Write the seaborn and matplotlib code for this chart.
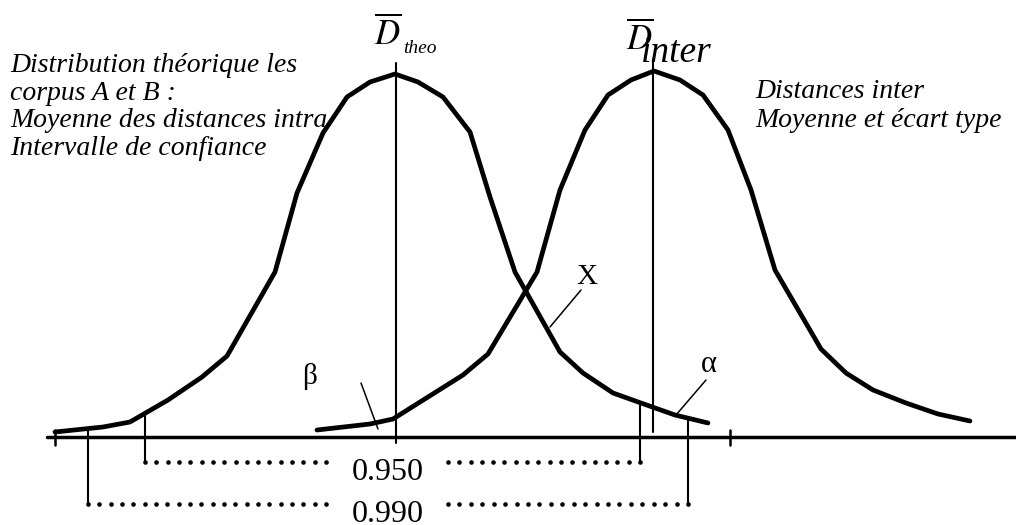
#!/bin/env python
"""
Two overlapping distributions: theoretical intra distances vs inter distances.
"""

import numpy as np
import matplotlib.pyplot as plt
import seaborn as sns

# theoretical distribution (corpus A and B), polyline
theo_x = [55, 103, 130, 168, 202, 227, 275, 297, 323, 347, 370, 395,
          418, 443, 470, 490, 515, 560, 583, 613, 641, 675, 708]
theo_y = [5, 10, 15, 37, 60, 81, 165, 244, 304, 340, 355, 363,
          355, 340, 305, 240, 165, 85, 64, 44, 34, 22, 14]

# inter distances distribution
inter_x = [317, 370, 393, 428, 463, 488, 537, 560, 585, 608, 631, 654,
           680, 703, 728, 751, 775, 821, 846, 873, 906, 938, 970]
inter_y = [7, 13, 18, 40, 62, 83, 165, 247, 307, 342, 357, 366,
           357, 342, 307, 247, 167, 88, 64, 47, 34, 23, 16]

theo_mean = 396
inter_mean = 653

# confidence intervals on the theoretical distribution
ci_labels = ['0.950', '0.990']
ci_low = [145, 88]
ci_high = [640, 688]

axis_ticks = [55, 730]

left_text = ['Distribution théorique les', 'corpus A et B :',
             'Moyenne des distances intra', 'Intervalle de confiance']
right_text = ['Distances inter', 'Moyenne et écart type']


def dotted(ax, x0, x1, y, step=11.2):
    """row of round dots from x0 to x1, both ends included"""
    n = int(round(abs(x1 - x0) / step)) + 1
    xs = np.linspace(x0, x1, n)
    ax.plot(xs, np.full(n, y), ls='none', marker='o', ms=3.3,
            color='black', mew=0)


def main():
    sns.set_theme(style='white')
    plt.rcParams['font.family'] = ['Liberation Serif', 'DejaVu Serif']
    plt.rcParams['mathtext.fontset'] = 'stix'
    plt.rcParams['text.color'] = 'black'

    fig = plt.figure(figsize=(10.16, 5.25), dpi=100)
    ax = fig.add_axes([0, 0, 1, 1])
    ax.set_xlim(0, 1016)
    ax.set_ylim(-88, 437)
    ax.axis('off')

    # horizontal axis and ticks
    ax.plot([47, 1016], [0, 0], color='black', lw=2.5, zorder=2)
    for t in axis_ticks:
        ax.plot([t, t], [-8, 7], color='black', lw=1.8)

    # curves
    sns.lineplot(x=theo_x, y=theo_y, sort=False, color='black', lw=3.4,
                 ax=ax, zorder=4)
    sns.lineplot(x=inter_x, y=inter_y, sort=False, color='black', lw=3.4,
                 ax=ax, zorder=4)

    # mean lines
    ax.plot([theo_mean, theo_mean], [-6, 374], color='black', lw=1.5)
    ax.plot([inter_mean, inter_mean], [5, 377], color='black', lw=1.5)

    # mean labels
    ax.text(388, 402, r'$\overline{D}$', fontsize=25, ha='center',
            va='center')
    ax.text(403, 384, 'theo', fontsize=14, style='italic', ha='left',
            va='baseline')
    ax.text(640, 397, r'$\overline{D}$', fontsize=25, ha='center',
            va='center')
    ax.text(641, 375, 'inter', fontsize=27, style='italic', ha='left',
            va='baseline')

    # confidence interval brackets
    rows = [-25, -67]
    for lab, lo, hi, row in zip(ci_labels, ci_low, ci_high, rows):
        for xv in (lo, hi):
            top = np.interp(xv, theo_x, theo_y)
            ax.plot([xv, xv], [row, top], color='black', lw=1.5)
        dotted(ax, lo, 326, row)
        dotted(ax, 448, hi, row)
        ax.text(388, row - 18, lab, fontsize=23, ha='center',
                va='baseline')

    # alpha, beta and crossing annotations
    ax.plot([361, 378], [54, 8], color='black', lw=1.1)
    ax.text(310, 61, 'β', fontsize=21, ha='center', va='center')
    ax.plot([706, 676], [57, 22], color='black', lw=1.1)
    ax.text(709, 72, 'α', fontsize=22, ha='center', va='center')
    ax.plot([581, 550], [147, 110], color='black', lw=1.1)
    ax.text(587, 160, 'X', fontsize=21, ha='center', va='center')

    # descriptive text
    for i, line in enumerate(left_text):
        ax.text(10, 437 - 72 - i * 27.7, line, fontsize=20, style='italic',
                ha='left', va='baseline', zorder=1)
    for i, line in enumerate(right_text):
        ax.text(755, 437 - 98 - i * 29, line, fontsize=20, style='italic',
                ha='left', va='baseline')

    fig.savefig('out.png', dpi=100)


if __name__ == "__main__":
    main()
